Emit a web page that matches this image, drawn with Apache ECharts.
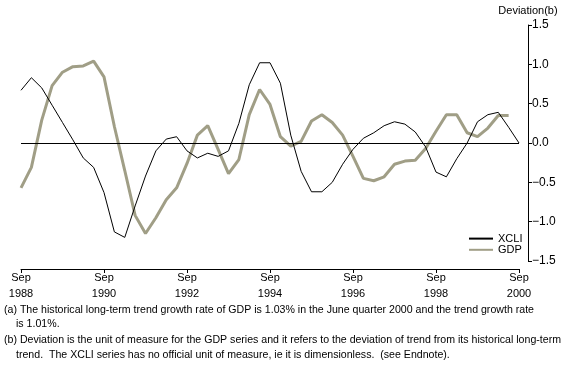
<!DOCTYPE html>
<html>
<head>
<meta charset="utf-8">
<script src="https://cdn.jsdelivr.net/npm/echarts@6/dist/echarts.min.js"></script>
<style>
    html, body { margin: 0; padding: 0; background: #fff; }
    #chart { width: 567px; height: 378px; }
</style>
</head>
<body>
<div id="chart"></div>
<script>
// Quarters, Sep 1988 to Sep 2000
var quarters = [
    'Sep 1988', 'Dec 1988', 'Mar 1989', 'Jun 1989', 'Sep 1989', 'Dec 1989', 'Mar 1990', 'Jun 1990',
    'Sep 1990', 'Dec 1990', 'Mar 1991', 'Jun 1991', 'Sep 1991', 'Dec 1991', 'Mar 1992', 'Jun 1992',
    'Sep 1992', 'Dec 1992', 'Mar 1993', 'Jun 1993', 'Sep 1993', 'Dec 1993', 'Mar 1994', 'Jun 1994',
    'Sep 1994', 'Dec 1994', 'Mar 1995', 'Jun 1995', 'Sep 1995', 'Dec 1995', 'Mar 1996', 'Jun 1996',
    'Sep 1996', 'Dec 1996', 'Mar 1997', 'Jun 1997', 'Sep 1997', 'Dec 1997', 'Mar 1998', 'Jun 1998',
    'Sep 1998', 'Dec 1998', 'Mar 1999', 'Jun 1999', 'Sep 1999', 'Dec 1999', 'Mar 2000', 'Jun 2000',
    'Sep 2000'
];

// Composite leading indicator (dimensionless)
var xcli = [
    0.67, 0.83, 0.70, 0.48, 0.26, 0.04, -0.19, -0.31,
    -0.63, -1.13, -1.20, -0.80, -0.42, -0.10, 0.05, 0.08,
    -0.10, -0.19, -0.13, -0.17, -0.10, 0.25, 0.74, 1.02,
    1.02, 0.76, 0.10, -0.36, -0.62, -0.62, -0.50, -0.27,
    -0.08, 0.06, 0.13, 0.22, 0.27, 0.24, 0.14, -0.05,
    -0.37, -0.43, -0.20, 0.00, 0.27, 0.36, 0.39, 0.20,
    0.00
];

// GDP deviation from long-term trend (ends Jun 2000)
var gdp = [
    -0.57, -0.31, 0.29, 0.73, 0.90, 0.97, 0.98, 1.04,
    0.84, 0.21, -0.35, -0.92, -1.15, -0.95, -0.72, -0.57,
    -0.26, 0.10, 0.22, -0.08, -0.39, -0.21, 0.36, 0.68,
    0.49, 0.08, -0.04, 0.02, 0.28, 0.36, 0.26, 0.10,
    -0.17, -0.45, -0.48, -0.43, -0.27, -0.23, -0.22, -0.07,
    0.15, 0.36, 0.36, 0.13, 0.08, 0.19, 0.35, 0.35
];

var footnotes = [
    '(a) The historical long-term trend growth rate of GDP is 1.03% in the June quarter 2000 and the trend growth rate',
    'is 1.01%.',
    '(b) Deviation is the unit of measure for the GDP series and it refers to the deviation of trend from its historical long-term',
    'trend.  The XCLI series has no official unit of measure, ie it is dimensionless.  (see Endnote).'
];

var fontFamily = '"Liberation Sans", Arial, sans-serif';

var chartElement = document.getElementById('chart');
var chart = echarts.init(chartElement);

// Footnote text blocks
var noteIndent = [4, 16, 4, 16];
var noteY = [311, 325, 341, 356];
var noteGraphics = footnotes.map(function (t, i) {
    return {
        type: 'text',
        left: noteIndent[i],
        top: noteY[i] - 6,
        style: {
            text: t,
            fill: '#000',
            font: '10.6px ' + fontFamily
        }
    };
});

chart.setOption({
    animation: false,
    textStyle: {
        fontFamily: fontFamily
    },

    grid: {
        left: 21,
        right: 48,
        top: 25,
        bottom: 117
    },

    legend: {
        orient: 'vertical',
        left: 468,
        top: 233,
        itemWidth: 24,
        itemHeight: 14,
        itemGap: 0,
        padding: 0,
        data: ['XCLI', 'GDP'],
        itemStyle: { opacity: 0 },
        textStyle: {
            color: '#000',
            fontSize: 11
        }
    },

    xAxis: {
        type: 'category',
        data: quarters,
        boundaryGap: false,
        position: 'bottom',
        offset: 8,
        axisLine: {
            onZero: false,
            lineStyle: { color: '#000', width: 1 }
        },
        axisTick: {
            interval: 7,
            length: 4,
            lineStyle: { color: '#000' }
        },
        axisLabel: {
            interval: 7,
            color: '#000',
            fontSize: 11,
            lineHeight: 16,
            margin: 1,
            formatter: function (v) {
                return v.replace(' ', '\n');
            }
        },
        splitLine: { show: false }
    },

    yAxis: {
        type: 'value',
        position: 'right',
        offset: 9,
        min: -1.5,
        max: 1.5,
        interval: 0.5,
        name: 'Deviation(b)',
        nameLocation: 'end',
        nameGap: 9,
        nameTextStyle: {
            color: '#000',
            fontSize: 11
        },
        axisLine: {
            show: true,
            lineStyle: { color: '#000', width: 1 }
        },
        axisTick: {
            show: true,
            length: 4,
            lineStyle: { color: '#000' }
        },
        axisLabel: {
            color: '#000',
            fontSize: 12,
            margin: 4,
            formatter: function (v) {
                return v.toFixed(1).replace('-', '\u2212');
            }
        },
        splitLine: { show: false }
    },

    series: [{
        name: 'XCLI',
        type: 'line',
        data: xcli,
        symbol: 'none',
        color: '#000',
        lineStyle: { color: '#000', width: 1 },
        z: 3,
        markLine: {
            silent: true,
            symbol: 'none',
            label: { show: false },
            lineStyle: { color: '#000', width: 1, type: 'solid' },
            data: [{ yAxis: 0 }]
        }
    }, {
        name: 'GDP',
        type: 'line',
        data: gdp,
        symbol: 'none',
        color: '#a09e86',
        lineStyle: { color: '#a09e86', width: 3 },
        z: 2
    }],

    graphic: noteGraphics
});

// Resize
window.addEventListener('resize', function () {
    chart.resize();
});
</script>
</body>
</html>
